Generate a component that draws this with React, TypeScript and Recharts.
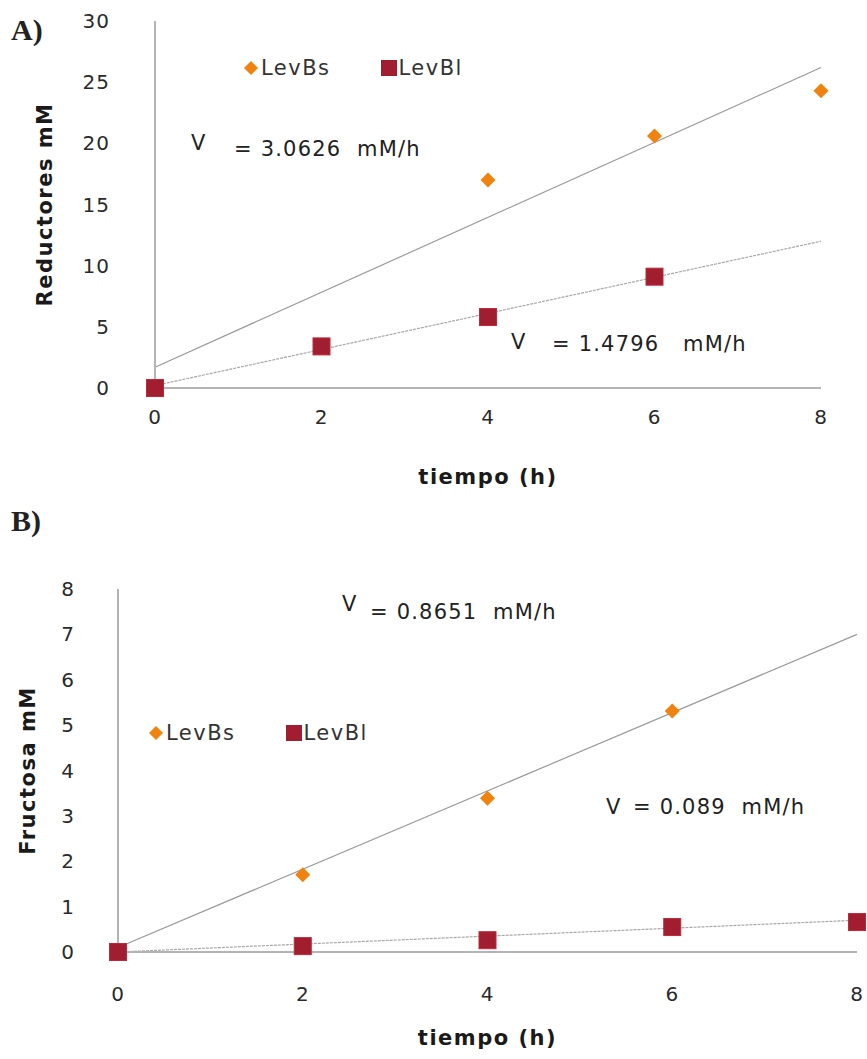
import React from 'react'
import {
  ComposedChart,
  Scatter,
  XAxis,
  YAxis,
  ReferenceLine,
  Legend,
} from 'recharts'

// Chart A: azúcares reductores
const timeABs = [0, 4, 6, 8]
const reductoresBs = [0, 17.0, 20.6, 24.3]
const timeABl = [0, 2, 4, 6]
const reductoresBl = [0, 3.4, 5.8, 9.1]
const trendABs = [1.7, 26.2] // at t = 0 and t = 8
const trendABl = [0.2, 12.0]
const ticksAY = [0, 5, 10, 15, 20, 25, 30]

// Chart B: fructosa
const timeBBs = [0, 2, 4, 6]
const fructosaBs = [0, 1.7, 3.39, 5.31]
const timeBBl = [0, 2, 4, 6, 8]
const fructosaBl = [0, 0.13, 0.26, 0.55, 0.66]
const trendBBs = [0.1, 7.0]
const trendBBl = [0.0, 0.7]
const ticksBY = [0, 1, 2, 3, 4, 5, 6, 7, 8]

const ticksX = [0, 2, 4, 6, 8]
const trendX = [0, 8]

const ORANGE = '#F0820F'
const RED = '#A01E30'
const AXIS = '#b4b4b4'
const FONT = '"DejaVu Sans", Verdana, sans-serif'

const toPoints = (xs: number[], ys: number[]) => xs.map((x, i) => ({ x, y: ys[i] }))

const Diamond = (props: any) => {
  const { cx, cy } = props
  const r = 7.5
  return (
    <polygon
      points={`${cx},${cy - r} ${cx + r},${cy} ${cx},${cy + r} ${cx - r},${cy}`}
      fill={ORANGE}
    />
  )
}

const Square = (props: any) => {
  const { cx, cy } = props
  const s = 17
  return <rect x={cx - s / 2} y={cy - s / 2} width={s} height={s} fill={RED} stroke="#c0283a" strokeWidth={1} />
}

const LegendContent = () => (
  <div style={{ display: 'flex', alignItems: 'center', fontFamily: FONT, fontSize: 21, color: '#333', letterSpacing: 1.5 }}>
    <svg width={16} height={16} style={{ marginRight: 2 }}>
      <polygon points="8,1 15,8 8,15 1,8" fill={ORANGE} />
    </svg>
    <span>LevBs</span>
    <svg width={16} height={16} style={{ marginLeft: 50, marginRight: 2 }}>
      <rect x={0} y={0} width={16} height={16} fill={RED} />
    </svg>
    <span>LevBl</span>
  </div>
)

const textStyle: React.CSSProperties = {
  position: 'absolute',
  fontFamily: FONT,
  fontSize: 21,
  color: '#222',
  letterSpacing: 1.2,
  whiteSpace: 'pre',
  lineHeight: 1,
}

const Note = ({ left, top, children }: { left: number; top: number; children: React.ReactNode }) => (
  <div style={{ ...textStyle, left, top }}>{children}</div>
)

const tickStyle = { fontSize: 20, fill: '#2a2a2a', fontFamily: FONT, letterSpacing: 1 }
const labelStyle = { fontSize: 21, fill: '#1a1a1a', fontFamily: FONT, fontWeight: 'bold', letterSpacing: 1.5 }

export default function App() {
  return (
    <div style={{ position: 'absolute', left: 0, top: 0, width: 867, height: 1059, background: '#fff' }}>
      <div style={{ position: 'absolute', left: 11, top: 13, fontFamily: '"Liberation Serif", serif', fontSize: 30, fontWeight: 'bold', color: '#222' }}>A)</div>
      <div style={{ position: 'absolute', left: 11, top: 504, fontFamily: '"Liberation Serif", serif', fontSize: 30, fontWeight: 'bold', color: '#222' }}>B)</div>

      <div style={{ position: 'absolute', left: 0, top: 0 }}>
        <ComposedChart width={867} height={520} margin={{ top: 21, right: 46, bottom: 0, left: 0 }}>
          <XAxis
            type="number"
            dataKey="x"
            domain={[0, 8]}
            ticks={ticksX}
            height={132}
            tickSize={0}
            tickMargin={22}
            tick={tickStyle}
            axisLine={{ stroke: AXIS, strokeWidth: 2 }}
            label={{ value: 'tiempo (h)', position: 'insideBottom', offset: 36, style: labelStyle }}
          />
          <YAxis
            type="number"
            dataKey="y"
            domain={[0, 30]}
            ticks={ticksAY}
            width={155}
            tickSize={0}
            tickMargin={45}
            tick={tickStyle}
            axisLine={{ stroke: AXIS, strokeWidth: 2 }}
            label={{ value: 'Reductores mM', angle: -90, position: 'insideLeft', offset: 45, style: { ...labelStyle, textAnchor: 'middle' } }}
          />
          <ReferenceLine
            segment={toPoints(trendX, trendABs)}
            stroke="#9a9a9a"
            strokeWidth={1.2}
            ifOverflow="visible"
          />
          <ReferenceLine
            segment={toPoints(trendX, trendABl)}
            stroke="#a8a8a8"
            strokeWidth={1.2}
            strokeDasharray="3 1"
            ifOverflow="visible"
          />
          <Scatter name="LevBs" data={toPoints(timeABs, reductoresBs)} fill={ORANGE} shape={Diamond} isAnimationActive={false} />
          <Scatter name="LevBl" data={toPoints(timeABl, reductoresBl)} fill={RED} shape={Square} isAnimationActive={false} />
          <Legend
            layout="horizontal"
            verticalAlign="middle"
            align="center"
            content={LegendContent}
            wrapperStyle={{ left: 243, top: 56, width: 'auto' }}
          />
        </ComposedChart>
      </div>

      <Note left={191} top={133}>V</Note>
      <Note left={234} top={139}>{'= 3.0626  mM/h'}</Note>
      <Note left={511} top={332}>V</Note>
      <Note left={552} top={334}>{'= 1.4796   mM/h'}</Note>

      <div style={{ position: 'absolute', left: 0, top: 540 }}>
        <ComposedChart width={867} height={519} margin={{ top: 49, right: 10, bottom: 0, left: 0 }}>
          <XAxis
            type="number"
            dataKey="x"
            domain={[0, 8]}
            ticks={ticksX}
            height={107}
            tickSize={0}
            tickMargin={35}
            tick={tickStyle}
            axisLine={{ stroke: AXIS, strokeWidth: 2 }}
            label={{ value: 'tiempo  (h)', position: 'insideBottom', offset: 14, style: labelStyle }}
          />
          <YAxis
            type="number"
            dataKey="y"
            domain={[0, 8]}
            ticks={ticksBY}
            width={118}
            tickSize={0}
            tickMargin={43}
            tick={tickStyle}
            axisLine={{ stroke: AXIS, strokeWidth: 2 }}
            label={{ value: 'Fructosa mM', angle: -90, position: 'insideLeft', offset: 28, style: { ...labelStyle, textAnchor: 'middle' } }}
          />
          <ReferenceLine
            segment={toPoints(trendX, trendBBs)}
            stroke="#9a9a9a"
            strokeWidth={1.2}
            ifOverflow="visible"
          />
          <ReferenceLine
            segment={toPoints(trendX, trendBBl)}
            stroke="#a8a8a8"
            strokeWidth={1.2}
            strokeDasharray="3 1"
            ifOverflow="visible"
          />
          <Scatter name="LevBs" data={toPoints(timeBBs, fructosaBs)} fill={ORANGE} shape={Diamond} isAnimationActive={false} />
          <Scatter name="LevBl" data={toPoints(timeBBl, fructosaBl)} fill={RED} shape={Square} isAnimationActive={false} />
          <Legend
            layout="horizontal"
            verticalAlign="middle"
            align="center"
            content={LegendContent}
            wrapperStyle={{ left: 148, top: 181, width: 'auto' }}
          />
        </ComposedChart>
      </div>

      <Note left={342} top={594}>V</Note>
      <Note left={370} top={602}>{'= 0.8651  mM/h'}</Note>
      <Note left={606} top={797}>V</Note>
      <Note left={633} top={797}>{'= 0.089  mM/h'}</Note>
    </div>
  )
}
